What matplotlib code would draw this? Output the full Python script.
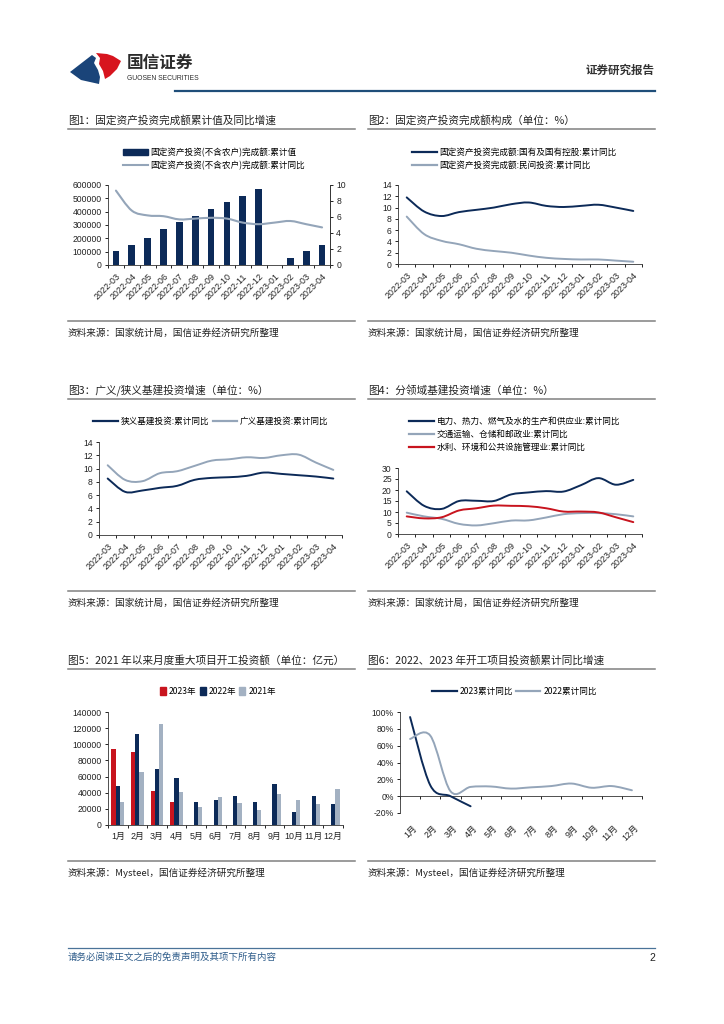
import numpy as np
import matplotlib
matplotlib.use('Agg')
import matplotlib.pyplot as plt
from matplotlib.path import Path
from matplotlib.patches import PathPatch, Polygon, Patch
from matplotlib.lines import Line2D

plt.rcParams['font.family'] = ['Liberation Sans', 'Noto Sans CJK SC', 'DejaVu Sans']
plt.rcParams['axes.unicode_minus'] = False

W, H = 724, 1024

# ---------- DATA ----------
months14 = ['2022-03', '2022-04', '2022-05', '2022-06', '2022-07', '2022-08', '2022-09',
            '2022-10', '2022-11', '2022-12', '2023-01', '2023-02', '2023-03', '2023-04']

# fig 1
fai_cum = [104872, 153544, 205964, 271430, 319812, 367106, 421412,
           471459, 520043, 572138, np.nan, 53577, 107282, 147482]
fai_yoy = [9.3, 6.8, 6.2, 6.1, 5.7, 5.8, 5.9, 5.8, 5.3, 5.1, 5.3, 5.5, 5.1, 4.7]

# fig 2
soe_yoy = [11.8, 9.3, 8.5, 9.2, 9.6, 10.0, 10.6, 10.9, 10.3, 10.1, 10.3, 10.5, 10.0, 9.4]
private_yoy = [8.4, 5.3, 4.1, 3.5, 2.7, 2.3, 2.0, 1.5, 1.1, 0.9, 0.8, 0.8, 0.6, 0.4]

# fig 3
infra_narrow = [8.5, 6.5, 6.7, 7.1, 7.4, 8.3, 8.6, 8.7, 8.9, 9.4, 9.2, 9.0, 8.8, 8.5]
infra_broad = [10.5, 8.3, 8.1, 9.3, 9.6, 10.4, 11.2, 11.4, 11.7, 11.6, 12.0, 12.1, 10.9, 9.8]

# fig 4
power_yoy = [19.4, 12.8, 11.4, 15.0, 15.1, 15.0, 18.0, 18.9, 19.5, 19.3, 22.2, 25.4, 22.4, 24.6]
transport_yoy = [9.7, 8.0, 6.9, 4.6, 3.9, 4.9, 6.1, 6.2, 7.5, 9.0, 9.5, 9.5, 9.0, 8.0]
water_yoy = [8.0, 7.1, 7.6, 10.7, 11.7, 12.9, 12.8, 12.6, 11.7, 10.2, 10.2, 9.8, 7.6, 5.4]

# fig 5
months12 = ['1月', '2月', '3月', '4月', '5月', '6月', '7月', '8月', '9月', '10月', '11月', '12月']
start_2023 = [94000, 91000, 42500, 28500] + [np.nan] * 8
start_2022 = [48500, 113000, 69500, 58000, 28500, 31000, 35500, 28000, 51000, 16000, 35500, 26500]
start_2021 = [28800, 65500, 125000, 41000, 22500, 34800, 27500, 18500, 39000, 31200, 26300, 44600]

# fig 6
cum_yoy_2023 = [94, 13, 0, -12]
cum_yoy_2022 = [68, 72, 6, 11, 11.5, 9, 10.5, 12, 15, 10, 12, 7]

NAVY = '#0C2A58'
GREY = '#94A5B9'
RED = '#C8141E'
TXT = '#222222'
CJK = ['Noto Sans CJK SC', 'DejaVu Sans']


def rect(l, t, r, b):
    return [l / W, 1 - b / H, (r - l) / W, (b - t) / H]


def smooth(ax, x, y, color, lw=1.4, k=1 / 6):
    x = np.asarray(x, float)
    y = np.asarray(y, float)
    n = len(x)
    verts = [(x[0], y[0])]
    codes = [Path.MOVETO]
    for i in range(n - 1):
        a, b = max(i - 1, 0), min(i + 2, n - 1)
        c1 = (x[i] + (x[i + 1] - x[a]) * k, y[i] + (y[i + 1] - y[a]) * k)
        c2 = (x[i + 1] - (x[b] - x[i]) * k, y[i + 1] - (y[b] - y[i]) * k)
        verts += [c1, c2, (x[i + 1], y[i + 1])]
        codes += [Path.CURVE4] * 3
    ax.add_patch(PathPatch(Path(verts, codes), fill=False, edgecolor=color, lw=lw,
                           capstyle='round', joinstyle='round', zorder=3))


def style(ax, labels, rot=45, right=False):
    n = len(labels)
    ax.set_xlim(-0.5, n - 0.5)
    ax.set_xticks(np.arange(n))
    if rot:
        ax.set_xticklabels(labels, rotation=rot, ha='right', va='top', rotation_mode='anchor')
    else:
        ax.set_xticklabels(labels)
    ax.set_xticks(np.arange(-0.5, n), minor=True)
    ax.tick_params(axis='x', which='major', length=0, pad=5, labelsize=6.4, labelcolor=TXT)
    ax.tick_params(axis='x', which='minor', length=2.5, width=0.6, direction='out')
    ax.tick_params(axis='y', length=2.5, width=0.6, labelsize=6.2, pad=2, labelcolor=TXT)
    ax.spines['top'].set_visible(False)
    ax.spines['right'].set_visible(right)
    for s in ['left', 'bottom', 'right']:
        ax.spines[s].set_linewidth(0.6)
        ax.spines[s].set_color('#333333')
    ax.patch.set_alpha(0)


def legend(ax, handles, labels, x, y, ncol=1, hl=2.85, colsp=0.4, **kw):
    ax.legend(handles, labels, loc='upper left', bbox_to_anchor=(x / W, 1 - y / H),
              bbox_transform=fig.transFigure, frameon=False, ncol=ncol,
              prop={'family': CJK, 'size': 6.2},
              handlelength=hl, handletextpad=0.35, labelspacing=0.45, borderpad=0,
              borderaxespad=0, columnspacing=colsp, **kw)


fig = plt.figure(figsize=(W / 100, H / 100), dpi=100)

# page decoration layer in pixel coordinates
pg = fig.add_axes([0, 0, 1, 1])
pg.set_xlim(0, W)
pg.set_ylim(H, 0)
pg.axis('off')

# logo
pg.add_patch(Polygon([(96, 53), (107, 54), (113, 56), (121, 61), (117, 69), (110, 76),
                      (105, 79), (103, 71), (99, 64), (100, 58)],
                     closed=True, color='#D7141E', lw=0))
pg.add_patch(Polygon([(70, 72), (92, 55), (96, 58), (94, 63), (98, 70), (100, 77),
                      (99, 84), (81, 80)], closed=True, color='#1A4479', lw=0))
pg.text(127, 63, '国信证券', fontsize=12, fontweight='bold', color='#2B2B2B', va='center',
        family=CJK)
pg.text(127, 79, 'GUOSEN SECURITIES', fontsize=4.9, color='#2B2B2B', va='center')
pg.text(655, 70, '证券研究报告', fontsize=8.3, fontweight='bold', color='#333333',
        ha='right', va='center', family=CJK)
pg.plot([175, 655], [91, 91], color='#1F4E79', lw=1.6)

# panel titles / rules / sources
titles = [(68, 120, '图1：固定资产投资完成额累计值及同比增速'),
          (368, 120, '图2：固定资产投资完成额构成（单位：%）'),
          (68, 390, '图3：广义/狭义基建投资增速（单位：%）'),
          (368, 390, '图4：分领域基建投资增速（单位：%）'),
          (68, 660, '图5：2021 年以来月度重大项目开工投资额（单位：亿元）'),
          (368, 660, '图6：2022、2023 年开工项目投资额累计同比增速')]
for x, y, s in titles:
    pg.text(x, y, s, fontsize=7.7, color=TXT, va='center', family=CJK)
    pg.plot([x, x + 287], [y + 8.5, y + 8.5], color='#808080', lw=1.1)
src_nbs = '资料来源：国家统计局，国信证券经济研究所整理'
src_my = '资料来源：Mysteel，国信证券经济研究所整理'
for x, y, s in [(68, 321, src_nbs), (368, 321, src_nbs), (68, 591, src_nbs),
                (368, 591, src_nbs), (68, 861, src_my), (368, 861, src_my)]:
    pg.plot([x, x + 287], [y, y], color='#808080', lw=1.1)
    pg.text(x, y + 12, s, fontsize=6.9, color=TXT, va='center', family=CJK)

# footer
pg.plot([68, 655], [948, 948], color='#4A7398', lw=0.9)
pg.text(68, 957, '请务必阅读正文之后的免责声明及其项下所有内容', fontsize=6.8,
        color='#2E5C8A', style='italic', va='center', family=CJK)
pg.text(655, 958, '2', fontsize=7.5, color=TXT, ha='right', va='center')

x14 = np.arange(len(months14))

# ---------- 图1 ----------
ax1 = fig.add_axes(rect(108, 185, 330, 265))
ax1.bar(x14, np.nan_to_num(fai_cum), width=0.42, color=NAVY, zorder=2)
ax1.set_ylim(0, 600000)
ax1.set_yticks(np.arange(0, 600001, 100000))
style(ax1, months14, right=True)
ax1r = ax1.twinx()
smooth(ax1r, x14, fai_yoy, GREY, lw=1.5)
ax1r.set_ylim(0, 10)
ax1r.set_yticks(np.arange(0, 11, 2))
ax1r.tick_params(axis='y', length=2.5, width=0.6, labelsize=6.2, pad=2, labelcolor=TXT)
for s in ['top', 'left', 'bottom']:
    ax1r.spines[s].set_visible(False)
ax1r.spines['right'].set_linewidth(0.6)
ax1r.spines['right'].set_color('#333333')
legend(ax1r, [Patch(color=NAVY), Line2D([], [], color=GREY, lw=1.5)],
       ['固定资产投资(不含农户)完成额:累计值', '固定资产投资(不含农户)完成额:累计同比'],
       123, 148, handleheight=0.75)

# ---------- 图2 ----------
ax2 = fig.add_axes(rect(398, 185, 642, 264))
smooth(ax2, x14, soe_yoy, NAVY)
smooth(ax2, x14, private_yoy, GREY)
ax2.set_ylim(0, 14)
ax2.set_yticks(np.arange(0, 15, 2))
style(ax2, months14)
legend(ax2, [Line2D([], [], color=NAVY, lw=1.6), Line2D([], [], color=GREY, lw=1.6)],
       ['固定资产投资完成额:国有及国有控股:累计同比', '固定资产投资完成额:民间投资:累计同比'],
       412, 148)

# ---------- 图3 ----------
ax3 = fig.add_axes(rect(99, 442, 342, 535))
smooth(ax3, x14, infra_narrow, NAVY)
smooth(ax3, x14, infra_broad, GREY)
ax3.set_ylim(0, 14)
ax3.set_yticks(np.arange(0, 15, 2))
style(ax3, months14)
legend(ax3, [Line2D([], [], color=NAVY, lw=1.6), Line2D([], [], color=GREY, lw=1.6)],
       ['狭义基建投资:累计同比', '广义基建投资:累计同比'], 93, 417, ncol=2)

# ---------- 图4 ----------
ax4 = fig.add_axes(rect(398, 468, 642, 534))
smooth(ax4, x14, power_yoy, NAVY)
smooth(ax4, x14, transport_yoy, GREY)
smooth(ax4, x14, water_yoy, RED)
ax4.set_ylim(0, 30)
ax4.set_yticks(np.arange(0, 31, 5))
style(ax4, months14)
legend(ax4, [Line2D([], [], color=c, lw=1.6) for c in (NAVY, GREY, RED)],
       ['电力、热力、燃气及水的生产和供应业:累计同比', '交通运输、仓储和邮政业:累计同比',
        '水利、环境和公共设施管理业:累计同比'], 409, 417)

# ---------- 图5 ----------
x12 = np.arange(len(months12))
ax5 = fig.add_axes(rect(108, 712, 343, 825))
bw = 0.215
ax5.bar(x12 - bw, np.nan_to_num(start_2023), width=bw, color=RED, zorder=2)
ax5.bar(x12, start_2022, width=bw, color=NAVY, zorder=2)
ax5.bar(x12 + bw, start_2021, width=bw, color='#A3B1C2', zorder=2)
ax5.set_ylim(0, 140000)
ax5.set_yticks(np.arange(0, 140001, 20000))
style(ax5, months12, rot=0)
ax5.tick_params(axis='x', which='major', pad=5)
legend(ax5, [Patch(color=RED), Patch(color=NAVY), Patch(color='#A3B1C2')],
       ['2023年', '2022年', '2021年'], 160, 687, ncol=3, hl=0.7, colsp=0.35,
       handleheight=0.9)

# ---------- 图6 ----------
ax6 = fig.add_axes(rect(400, 712, 642, 813))
smooth(ax6, np.arange(len(cum_yoy_2023)), cum_yoy_2023, NAVY)
smooth(ax6, x12, cum_yoy_2022, GREY)
ax6.set_ylim(-20, 100)
ax6.set_yticks(np.arange(-20, 101, 20))
ax6.set_yticklabels(['%d%%' % v for v in range(-20, 101, 20)])
style(ax6, months12)
ax6.set_xticklabels([])
ax6.spines['bottom'].set_position(('data', 0))
for i, m in enumerate(months12):
    ax6.text(i + 0.1, -0.1, m, transform=ax6.get_xaxis_transform(), rotation=45,
             ha='right', va='top', rotation_mode='anchor', fontsize=6.4, color=TXT)
legend(ax6, [Line2D([], [], color=NAVY, lw=1.6), Line2D([], [], color=GREY, lw=1.6)],
       ['2023累计同比', '2022累计同比'], 432, 687, ncol=2, colsp=0.3)

fig.savefig('out.png', dpi=100)
